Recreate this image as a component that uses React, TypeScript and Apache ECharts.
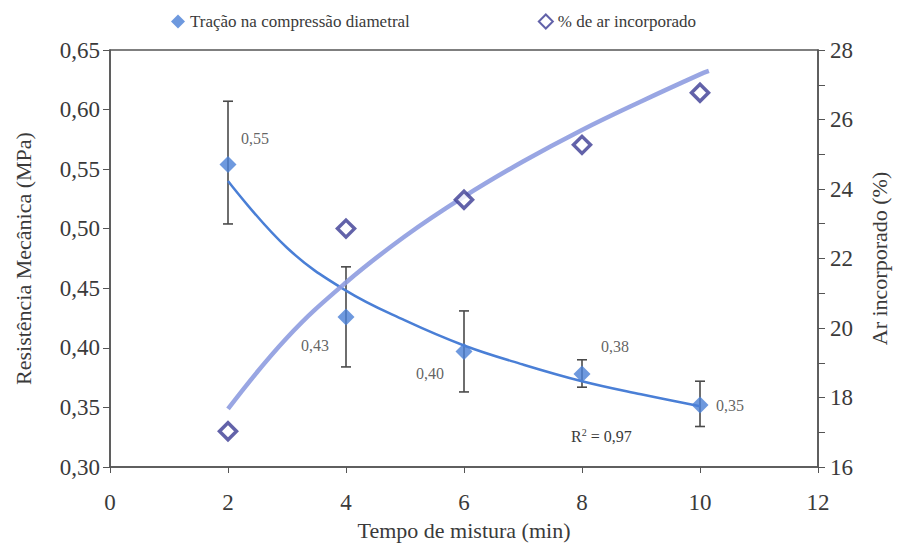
import React, { useEffect, useRef } from "react";
import * as echarts from "echarts";

// Mixing time (min)
const mixTimes = [2, 4, 6, 8, 10];
// Splitting tensile strength (MPa) and its error-bar limits
const tracao = [0.554, 0.426, 0.397, 0.378, 0.352];
const tracaoLow = [0.504, 0.384, 0.363, 0.367, 0.334];
const tracaoHigh = [0.607, 0.468, 0.431, 0.39, 0.372];
// Entrained air (%)
const arIncorporado = [17.03, 22.86, 23.69, 25.27, 26.77];
// Trend curves
const tracaoTrendX = [2, 3, 4, 5, 6, 7, 8, 9, 10];
const tracaoTrend = [0.54, 0.484, 0.448, 0.423, 0.402, 0.386, 0.372, 0.361, 0.351];
const arTrendX = [2, 3, 4, 5, 6, 7, 8, 9, 10, 10.15];
const arTrend = [17.67, 19.72, 21.31, 22.64, 23.78, 24.79, 25.7, 26.52, 27.3, 27.4];
const r2Text = "0,97";

const SERIF = "Liberation Serif";
const TEXT = "#3a3a3a";
const AXIS = "#555555";
const BLUE = "#4a7fd6";
const NAVY = "#3b3b94";
const AIR_LINE = "#8e9ce0";

const NAME_T = "Tração na compressão diametral";
const NAME_A = "% de ar incorporado";

// label offsets for each strength value (px from marker centre)
const labelOffsets: [number, number][] = [
  [27, -26],
  [-31, 29],
  [-34, 22],
  [33, -28],
  [30, 0],
];

export default function App() {
  const ref = useRef<HTMLDivElement>(null);

  useEffect(() => {
    if (!ref.current) return;
    const chart = echarts.init(ref.current, null, { renderer: "svg" });

    const fmt = (v: number) => v.toFixed(2).replace(".", ",");

    const option: any = {
      animation: false,
      backgroundColor: "#ffffff",
      textStyle: { fontFamily: SERIF, color: TEXT },
      legend: {
        top: 8,
        left: 166,
        itemGap: 128,
        itemWidth: 14,
        itemHeight: 14,
        textStyle: { fontFamily: SERIF, fontSize: 17, color: TEXT },
        data: [
          { name: NAME_T, icon: "diamond" },
          { name: NAME_A, icon: "diamond" },
        ],
      },
      grid: {
        left: 110,
        right: 75,
        top: 50,
        bottom: 78,
        show: true,
        borderColor: AXIS,
        borderWidth: 1.5,
        backgroundColor: "transparent",
      },
      xAxis: {
        type: "value",
        min: 0,
        max: 12,
        interval: 2,
        name: "Tempo de mistura (min)",
        nameLocation: "middle",
        nameGap: 52,
        nameTextStyle: { fontFamily: SERIF, fontSize: 22, color: TEXT },
        axisLine: { show: true, lineStyle: { color: AXIS, width: 1.5 } },
        axisTick: { show: true, length: 6, lineStyle: { color: AXIS } },
        axisLabel: { fontFamily: SERIF, fontSize: 23, color: TEXT, margin: 24 },
        splitLine: { show: false },
      },
      yAxis: [
        {
          type: "value",
          min: 0.3,
          max: 0.65,
          interval: 0.05,
          position: "left",
          name: "Resistência Mecânica (MPa)",
          nameLocation: "middle",
          nameRotate: 90,
          nameGap: 76,
          nameTextStyle: { fontFamily: SERIF, fontSize: 22, color: TEXT },
          axisLine: { show: true, lineStyle: { color: AXIS, width: 1.5 } },
          axisTick: { show: true, length: 7, lineStyle: { color: AXIS } },
          axisLabel: {
            fontFamily: SERIF,
            fontSize: 23,
            color: TEXT,
            margin: 10,
            formatter: (v: number) => fmt(v),
          },
          splitLine: { show: false },
        },
        {
          type: "value",
          min: 16,
          max: 28,
          interval: 2,
          position: "right",
          name: "Ar incorporado (%)",
          nameLocation: "middle",
          nameRotate: 90,
          nameGap: 50,
          nameTextStyle: { fontFamily: SERIF, fontSize: 22, color: TEXT },
          axisLine: { show: true, lineStyle: { color: AXIS, width: 1.5 } },
          axisTick: { show: true, length: 7, lineStyle: { color: AXIS } },
          minorTick: { show: true, splitNumber: 2, length: 7, lineStyle: { color: AXIS } },
          axisLabel: { fontFamily: SERIF, fontSize: 23, color: TEXT, margin: 12 },
          splitLine: { show: false },
          minorSplitLine: { show: false },
        },
      ],
      series: [
        {
          name: "erro",
          type: "custom",
          yAxisIndex: 0,
          silent: true,
          z: 2,
          data: mixTimes.map((x, i) => [x, tracaoLow[i], tracaoHigh[i]]),
          encode: { x: 0, y: [1, 2] },
          renderItem: (_params: any, api: any) => {
            const x = api.value(0);
            const lo = api.coord([x, api.value(1)]);
            const hi = api.coord([x, api.value(2)]);
            const cap = 5;
            const style = { stroke: "#4a4a4a", lineWidth: 1.6 };
            return {
              type: "group",
              children: [
                { type: "line", shape: { x1: lo[0], y1: lo[1], x2: hi[0], y2: hi[1] }, style },
                { type: "line", shape: { x1: lo[0] - cap, y1: lo[1], x2: lo[0] + cap, y2: lo[1] }, style },
                { type: "line", shape: { x1: hi[0] - cap, y1: hi[1], x2: hi[0] + cap, y2: hi[1] }, style },
              ],
            };
          },
        },
        {
          name: "tendência tração",
          type: "line",
          yAxisIndex: 0,
          smooth: 0.4,
          symbol: "none",
          z: 3,
          lineStyle: { color: BLUE, width: 2.5 },
          data: tracaoTrendX.map((x, i) => [x, tracaoTrend[i]]),
        },
        {
          name: "tendência ar",
          type: "line",
          yAxisIndex: 1,
          smooth: 0.4,
          symbol: "none",
          z: 4,
          lineStyle: { color: AIR_LINE, width: 4.5, opacity: 0.9 },
          data: arTrendX.map((x, i) => [x, arTrend[i]]),
        },
        {
          name: NAME_T,
          type: "scatter",
          yAxisIndex: 0,
          symbol: "diamond",
          symbolSize: 17,
          z: 5,
          itemStyle: { color: BLUE },
          data: mixTimes.map((x, i) => ({
            value: [x, tracao[i]],
            label: {
              show: true,
              position: "inside",
              offset: labelOffsets[i],
              formatter: (p: any) => fmt(p.value[1]),
              fontFamily: SERIF,
              fontSize: 16,
              color: TEXT,
            },
          })),
        },
        {
          name: NAME_A,
          type: "scatter",
          yAxisIndex: 1,
          symbol: "diamond",
          symbolSize: 17,
          z: 6,
          itemStyle: { color: "#ffffff", borderColor: NAVY, borderWidth: 3.5 },
          data: mixTimes.map((x, i) => [x, arIncorporado[i]]),
        },
      ],
      graphic: [
        {
          type: "text",
          left: 571,
          top: 427,
          style: {
            text: "R{sup|2} = " + r2Text,
            fontFamily: SERIF,
            fontSize: 16,
            fontWeight: "normal",
            fill: TEXT,
            rich: {
              sup: {
                fontFamily: SERIF,
                fontSize: 10,
                fontWeight: "normal",
                fill: TEXT,
                verticalAlign: "top",
                padding: [0, 0, 8, 0],
              },
            },
          },
        },
      ],
    };

    chart.setOption(option);
    return () => chart.dispose();
  }, []);

  return (
    <div
      ref={ref}
      style={{ position: "fixed", left: 0, top: 0, width: 898, height: 546 }}
    />
  );
}
